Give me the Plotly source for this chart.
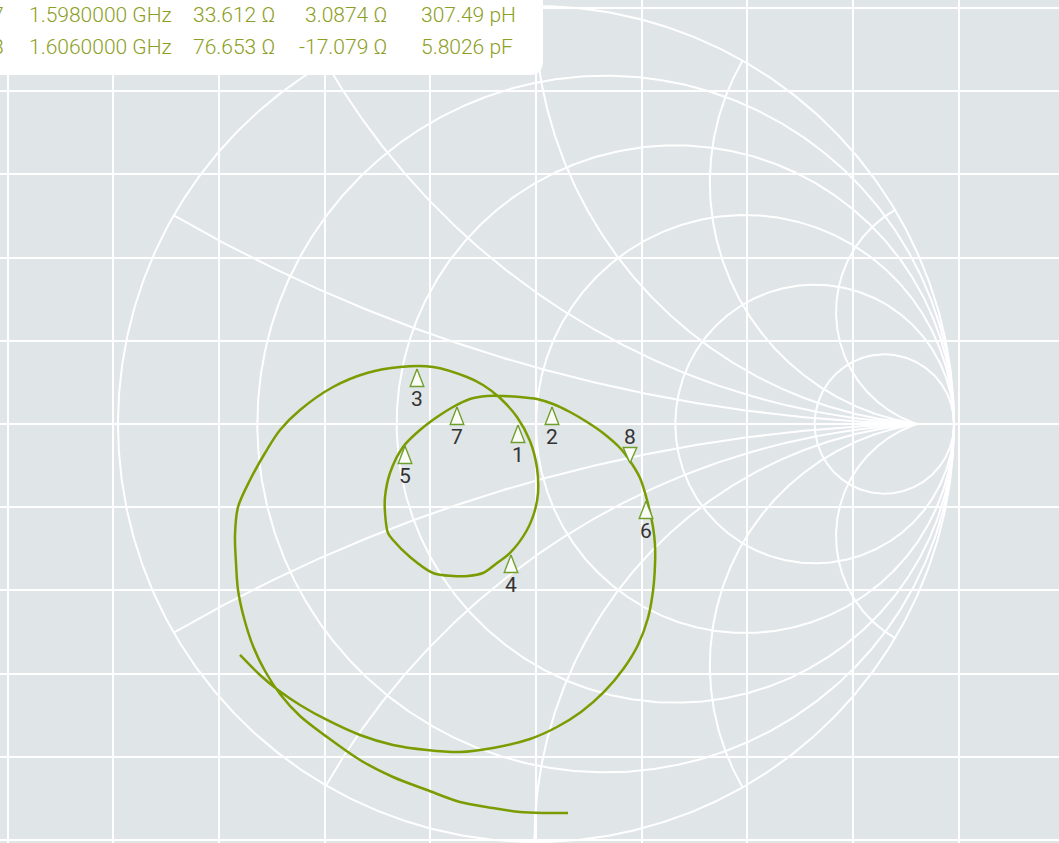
import numpy as np
import plotly.graph_objects as go

# ---------------- data (reflection coefficient) ----------------
trace_re = [0.0766, 0.0215, -0.0383, -0.1029, -0.1818, -0.2608, -0.3421, -0.4211, -0.5000, -0.5646,
            -0.6124, -0.6483, -0.6770, -0.6986, -0.7129, -0.7177, -0.7201, -0.7129, -0.6842, -0.6483,
            -0.6124, -0.5646, -0.4856, -0.4043, -0.3254, -0.2464, -0.1651, -0.1268, -0.0861, -0.0455,
            -0.0144, 0.0024, 0.0048, -0.0024, -0.0215, -0.0622, -0.0933, -0.1268, -0.1627, -0.1986,
            -0.2464, -0.3014, -0.3421, -0.3541, -0.3612, -0.3612, -0.3493, -0.3182, -0.2775, -0.2368,
            -0.1986, -0.1579, -0.1172, -0.0789, -0.0383, 0.0024, 0.0407, 0.0813, 0.1220, 0.1603,
            0.2010, 0.2249, 0.2488, 0.2656, 0.2799, 0.2847, 0.2847, 0.2799, 0.2679, 0.2440,
            0.2105, 0.1627, 0.1077, 0.0502, -0.0144, -0.1029, -0.1818, -0.2608, -0.3421, -0.4211,
            -0.5000, -0.5646, -0.6172, -0.6603, -0.7081]
trace_im = [-0.9306, -0.9306, -0.9282, -0.9187, -0.9043, -0.8756, -0.8445, -0.8038, -0.7488, -0.6986,
            -0.6459, -0.5909, -0.5311, -0.4641, -0.3971, -0.3325, -0.2656, -0.1986, -0.1340, -0.0694,
            -0.0144, 0.0335, 0.0885, 0.1220, 0.1364, 0.1364, 0.1124, 0.0933, 0.0622, 0.0167,
            -0.0407, -0.1053, -0.1651, -0.2057, -0.2536, -0.3086, -0.3325, -0.3565, -0.3636, -0.3636,
            -0.3565, -0.3182, -0.2775, -0.2608, -0.2129, -0.1746, -0.1172, -0.0550, -0.0144, 0.0167,
            0.0407, 0.0598, 0.0670, 0.0670, 0.0646, 0.0598, 0.0478, 0.0287, 0.0048, -0.0215,
            -0.0574, -0.0885, -0.1292, -0.1818, -0.2464, -0.2895, -0.3373, -0.3995, -0.4641, -0.5287,
            -0.5837, -0.6411, -0.6890, -0.7249, -0.7536, -0.7751, -0.7847, -0.7799, -0.7679, -0.7440,
            -0.7081, -0.6722, -0.6364, -0.6005, -0.5526]

marker_ids = ["1", "2", "3", "4", "5", "6", "7", "8"]
marker_re = [-0.0431, 0.0383, -0.2847, -0.0598, -0.3134, 0.2632, -0.1890, 0.2249]
marker_im = [-0.0024, 0.0407, 0.1316, -0.3134, -0.0526, -0.1842, 0.0407, -0.0933]
marker_dir = ["up", "up", "up", "up", "up", "up", "up", "down"]

table_ids = ["7", "8"]
table_freq = ["1.5980000 GHz", "1.6060000 GHz"]
table_r = ["33.612 Ω", "76.653 Ω"]
table_x = ["3.0874 Ω", "-17.079 Ω"]
table_lc = ["307.49 pH", "5.8026 pF"]

resistance_values = [0, 0.2, 0.5, 1, 2, 5]
reactance_values = [0.268, 0.577, 1.0, 1.732, 3.732]

# ---------------- geometry / style ----------------
W, H = 1059, 843
CX, CY, S = 536, 424, 418          # pixel of Gamma=0 and pixels per unit
GRID_DX, GRID_DY = 105.7, 83.2      # rectangular grid spacing in px
CONV = (917 - CX) / S               # where the reactance arcs meet
BG = "#e0e5e8"
GREEN = "#7a9c00"
TXT_GREEN = "#8c9e24"
MK_GREEN = "#6fa02c"

fig = go.Figure()

# Smith chart grid
gx, gy = [], []
t = np.linspace(0, 2 * np.pi, 721)
for r in resistance_values:
    c, rad = r / (1 + r), 1 / (1 + r)
    gx += list(c + rad * np.cos(t)) + [None]
    gy += list(rad * np.sin(t)) + [None]

delta = 1 - CONV
for xv in reactance_values:
    b = 1 / xv
    k = 1 - delta ** 2 / 2
    py = (k * b + np.sqrt(b * b + 1 - k * k)) / (1 + b * b)
    px = k - b * py
    ts = np.arctan2(py - b, px - 1)
    te = np.arctan2(-b, -delta)
    if te < ts:
        te += 2 * np.pi
    R = np.hypot(delta, b)
    tt = np.linspace(ts, te, 400)
    X = 1 + R * np.cos(tt)
    Y = b + R * np.sin(tt)
    for sgn in (1, -1):
        gx += list(X) + [None]
        gy += list(sgn * Y) + [None]
gx += [-1, 1, None]
gy += [0, 0, None]

fig.add_trace(go.Scatter(x=gx, y=gy, mode="lines", line=dict(color="white", width=2.0),
                         hoverinfo="skip", showlegend=False))

# measured trace
fig.add_trace(go.Scatter(x=trace_re, y=trace_im, mode="lines",
                         line=dict(color=GREEN, width=2.5, shape="spline", smoothing=0.9),
                         hoverinfo="skip", showlegend=False))

# markers (tall triangles whose tip sits on the trace)
hw, th_up, th_dn = 6.8 / S, 17.5 / S, 15.5 / S
for mid, mx, my, md in zip(marker_ids, marker_re, marker_im, marker_dir):
    h = -th_up if md == "up" else th_dn
    fig.add_trace(go.Scatter(x=[mx, mx - hw, mx + hw, mx], y=[my, my + h, my + h, my],
                             mode="lines", fill="toself", fillcolor="#fbfcf8",
                             line=dict(color=MK_GREEN, width=1.4),
                             hoverinfo="skip", showlegend=False))
    fig.add_annotation(x=mx, y=my, xref="x", yref="y", text=mid, showarrow=False,
                       yshift=-30 if md == "up" else 26, yanchor="middle",
                       font=dict(family="Roboto", size=21, color="#333333", weight=400))

# marker table box (top-left, cropped)
x1, yb = 543 / W, 1 - 75 / H
rx, ry = 14 / W, 14 / H
fig.add_shape(type="path", xref="paper", yref="paper", layer="above",
              path=f"M -0.05,1.05 L {x1},1.05 L {x1},{yb + ry} Q {x1},{yb} {x1 - rx},{yb} L -0.05,{yb} Z",
              fillcolor="white", line=dict(width=0))

row_y = [14.5, 47]
cols = [(table_ids, 6, "right"), (table_freq, 27, "left"), (table_r, 191, "left"),
        (table_x, 389, "right"), (table_lc, 419, "left")]
for vals, xpx, anch in cols:
    for v, ypx in zip(vals, row_y):
        fig.add_annotation(x=xpx / W, y=1 - ypx / H, xref="paper", yref="paper", text=v,
                           showarrow=False, xanchor=anch, yanchor="middle",
                           font=dict(family="Roboto", size=21, color=TXT_GREEN, weight=300))

fig.update_layout(
    width=W, height=H, margin=dict(l=0, r=0, t=0, b=0),
    paper_bgcolor=BG, plot_bgcolor=BG, showlegend=False,
    xaxis=dict(range=[-CX / S, (W - CX) / S], showgrid=True, gridcolor="white", gridwidth=2.4,
               tick0=0, dtick=GRID_DX / S, zeroline=False, showticklabels=False, ticks="",
               showline=False, fixedrange=True),
    yaxis=dict(range=[-(H - CY) / S, CY / S], showgrid=True, gridcolor="white", gridwidth=2.4,
               tick0=0, dtick=GRID_DY / S, zeroline=False, showticklabels=False, ticks="",
               showline=False, fixedrange=True),
)

fig.write_html("out.html", config={"displayModeBar": False},
               post_script="document.body.style.margin='0';document.body.style.overflow='hidden';")
